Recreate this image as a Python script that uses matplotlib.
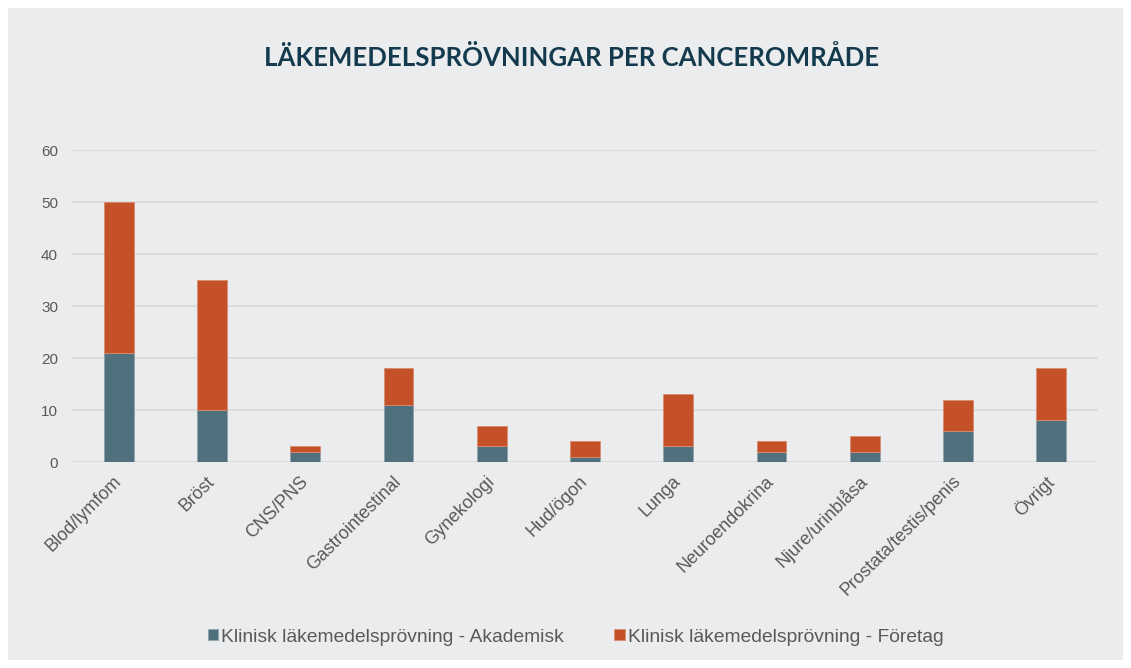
import matplotlib.pyplot as plt
from matplotlib.patches import Rectangle
import numpy as np

categories = ["Blod/lymfom", "Bröst", "CNS/PNS", "Gastrointestinal", "Gynekologi",
              "Hud/ögon", "Lunga", "Neuroendokrina", "Njure/urinblåsa",
              "Prostata/testis/penis", "Övrigt"]
akademisk = [21, 10, 2, 11, 3, 1, 3, 2, 2, 6, 8]
foretag = [29, 25, 1, 7, 4, 3, 10, 2, 3, 6, 10]
yticks = [0, 10, 20, 30, 40, 50, 60]

bg = "#EBECEE"
teal = "#50707D"
orange = "#C45127"
textgray = "#595959"

fig = plt.figure(figsize=(11.31, 6.68), dpi=100, facecolor="white")
fig.patches.append(Rectangle((8 / 1131, 8 / 668), 1 - 16 / 1131, 1 - 16 / 668,
                             transform=fig.transFigure, facecolor=bg,
                             edgecolor="none", zorder=-10))

ax = fig.add_axes([72 / 1131, 206 / 668, 1026 / 1131, 312 / 668])
ax.set_facecolor(bg)

x = np.arange(len(categories))
ax.bar(x, akademisk, width=0.32, color=teal, edgecolor="#8fa3ab", linewidth=0.6,
       label="Klinisk läkemedelsprövning - Akademisk", zorder=3)
ax.bar(x, foretag, width=0.32, bottom=akademisk, color=orange, edgecolor="#d98b6e",
       linewidth=0.6, label="Klinisk läkemedelsprövning - Företag", zorder=3)

ax.set_xlim(-0.5, len(categories) - 0.5)
ax.set_ylim(0, 60)
ax.set_yticks(yticks)
ax.grid(axis="y", color="#D9D9D9", linewidth=1.2, zorder=0)
for s in ax.spines.values():
    s.set_visible(False)
ax.tick_params(length=0, labelsize=11, labelcolor=textgray)
ax.tick_params(axis="y", pad=10)
ax.tick_params(axis="x", pad=12)
ax.set_xticks(x)
ax.set_xticklabels(categories, rotation=45, ha="right", va="center",
                   rotation_mode="anchor", fontsize=13, color=textgray,
                   fontfamily="Liberation Sans")
for lab in ax.get_yticklabels():
    lab.set_fontfamily("Liberation Sans")

fig.text(0.505, 1 - 58 / 668, "LÄKEMEDELSPRÖVNINGAR PER CANCEROMRÅDE",
         ha="center", va="center", fontsize=18.5, fontweight="bold",
         color="#143A4E", fontfamily="Lato")

fig.legend(loc="center", bbox_to_anchor=(0.509, 1 - 637 / 668), ncol=2,
           frameon=False, handlelength=0.55, handleheight=0.55, handletextpad=0.15,
           columnspacing=2.6, prop={"family": "Liberation Sans", "size": 13.9},
           labelcolor=textgray)

fig.savefig("out.png", dpi=100, facecolor="white")
